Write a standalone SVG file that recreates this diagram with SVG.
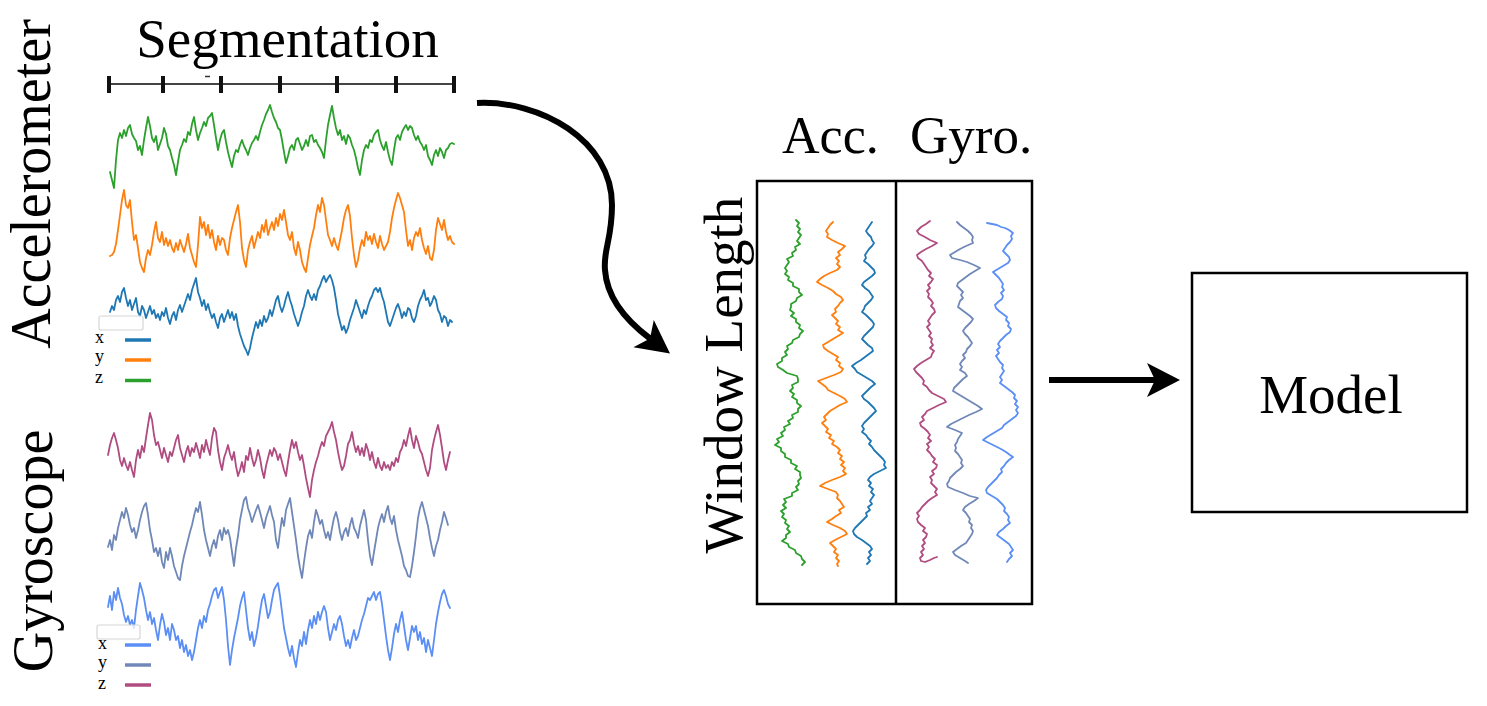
<svg xmlns="http://www.w3.org/2000/svg" width="1487" height="706" viewBox="0 0 1487 706">
<defs>
<style>
text{font-family:"Liberation Serif","Times New Roman",serif;fill:#000}
.sig{fill:none;stroke-width:1.8;stroke-linejoin:round;stroke-linecap:round}
.ax{stroke:#1f77b4}.ay{stroke:#ff7f0e}.az{stroke:#2ca02c}
.gx{stroke:#5b8ff5}.gy{stroke:#7088b8}.gz{stroke:#b04c80}
.leg{stroke-width:3.5;fill:none}
.tick{stroke:#111;stroke-width:4}
.box{fill:#fff;stroke:#000;stroke-width:2.5}
.conn{fill:none;stroke:#000;stroke-width:6}
.lgf{fill:#fff;fill-opacity:.75;stroke:#d6d6d6;stroke-width:1.2}
.lt{font-size:18px}
</style>
<marker id="ah" markerUnits="userSpaceOnUse" viewBox="0 0 40 40" markerWidth="40" markerHeight="40" refX="10" refY="20" orient="auto" overflow="visible">
<path d="M35,20 L2,3 L10,20 L2,37 Z" fill="#000"/>
</marker>
</defs>
<rect width="1487" height="706" fill="#fff"/>

<g id="segmentation">
<text x="287.5" y="57" font-size="55" text-anchor="middle">Segmentation</text>
<line x1="108" y1="84" x2="456" y2="84" stroke="#444" stroke-width="2"/>
<g class="tick">
<line x1="109" y1="76" x2="109" y2="93"/><line x1="163" y1="76" x2="163" y2="93"/><line x1="221" y1="76" x2="221" y2="93"/><line x1="280" y1="76" x2="280" y2="93"/><line x1="337" y1="76" x2="337" y2="93"/><line x1="396" y1="76" x2="396" y2="93"/><line x1="454" y1="76" x2="454" y2="93"/>
</g>
<line x1="205" y1="76.5" x2="210" y2="76.5" stroke="#333" stroke-width="1.5"/>
</g>

<g id="accelerometer">
<text transform="translate(50,184) rotate(-90)" font-size="56" text-anchor="middle">Accelerometer</text>
<polyline class="sig az" points="110,172 112,180 114,188 116,160 118,140 120,133 122,138 124,130 126,136 128,128 130,125 132,134 134,138 136,141 138,150 140,146 142,155 144,140 146,128 148,117 150,126 152,138 154,142 156,136 158,150 160,144 162,138 164,128 166,134 168,146 170,150 172,158 174,165 176,175 178,162 180,150 182,145 184,139 186,142 188,132 190,135 192,124 194,117 196,130 198,140 200,133 202,128 204,122 206,126 208,118 210,116 212,113 214,125 216,138 218,150 220,140 222,133 224,130 226,142 228,152 230,160 232,167 234,156 236,150 238,152 240,145 242,140 244,146 246,150 248,155 250,148 252,143 254,140 256,136 258,140 260,132 262,125 264,120 266,114 268,110 270,105 272,112 274,118 276,122 278,128 280,130 282,140 284,152 286,163 288,156 290,148 292,145 294,150 296,140 298,138 300,144 302,150 304,146 306,140 308,146 310,136 312,135 314,142 316,140 318,145 320,148 322,152 324,158 326,140 328,125 330,115 332,106 334,118 336,128 338,135 340,130 342,140 344,136 346,144 348,135 350,138 352,145 354,150 356,158 358,168 360,175 362,160 364,150 366,145 368,148 370,140 372,142 374,135 376,132 378,130 380,140 382,146 384,150 386,142 388,152 390,160 392,165 394,150 396,138 398,135 400,140 402,132 404,128 406,125 408,130 410,126 412,128 414,135 416,140 418,136 420,142 422,145 424,150 426,145 428,156 430,160 432,165 434,155 436,150 438,156 440,148 442,152 444,158 446,150 448,148 450,144 452,143 454,144"/>
<polyline class="sig ay" points="110,256 112,255 114,252 116,244 118,230 120,215 122,200 124,190 126,205 128,208 130,200 132,222 134,240 136,235 138,248 140,262 142,268 144,272 146,258 148,250 150,255 152,245 154,232 156,222 158,238 160,242 162,232 164,245 166,238 168,246 170,240 172,248 174,252 176,243 178,250 180,240 182,246 184,252 186,244 188,234 190,248 192,255 194,262 196,267 198,245 200,217 202,228 204,222 206,235 208,225 210,238 212,230 214,242 216,250 218,236 220,245 222,238 224,240 226,250 228,255 230,238 232,228 234,220 236,212 238,205 240,222 242,248 244,260 246,267 248,250 250,242 252,236 254,248 256,240 258,232 260,238 262,225 264,232 266,220 268,235 270,228 272,222 274,230 276,218 278,226 280,214 282,220 284,210 286,222 288,235 290,240 292,232 294,248 296,255 298,242 300,250 302,262 304,268 306,272 308,258 310,245 312,236 314,228 316,215 318,205 320,212 322,198 324,205 326,220 328,235 330,240 332,246 334,238 336,245 338,250 340,240 342,230 344,218 346,210 348,205 350,216 352,238 354,255 356,267 358,260 360,248 362,240 364,246 366,232 368,240 370,236 372,244 374,234 376,242 378,248 380,236 382,244 384,250 386,246 388,242 390,232 392,218 394,208 396,200 398,193 400,198 402,205 404,212 406,230 408,246 410,240 412,250 414,238 416,232 418,236 420,228 422,240 424,248 426,254 428,246 430,258 432,260 434,250 436,230 438,218 440,224 442,230 444,220 446,232 448,240 450,236 452,242 454,244"/>
<polyline class="sig ax" points="110,312 112,306 114,310 116,300 118,296 120,302 122,292 124,288 126,298 128,306 130,300 132,310 134,304 136,298 138,312 140,316 142,306 144,310 146,318 148,312 150,306 152,314 154,310 156,318 158,314 160,320 162,312 164,316 166,308 168,318 170,324 172,316 174,312 176,320 178,310 180,305 182,312 184,306 186,300 188,294 190,300 192,290 194,284 196,278 198,292 200,298 202,306 204,300 206,310 208,304 210,312 212,318 214,314 216,322 218,328 220,318 222,314 224,322 226,316 228,310 230,318 232,312 234,320 236,314 238,326 240,334 242,340 244,346 246,350 248,355 250,348 252,338 254,330 256,322 258,328 260,320 262,326 264,316 266,322 268,318 270,310 272,316 274,308 276,300 278,296 280,306 282,312 284,306 286,298 288,292 290,300 292,306 294,314 296,320 298,326 300,320 302,312 304,306 306,296 308,290 310,296 312,300 314,294 316,300 318,290 320,286 322,280 324,276 326,282 328,278 330,275 332,280 334,288 336,300 338,314 340,322 342,330 344,326 346,333 348,328 350,320 352,314 354,308 356,300 358,306 360,312 362,318 364,310 366,314 368,306 370,300 372,296 374,290 376,288 378,292 380,288 382,296 384,302 386,312 388,322 390,326 392,320 394,314 396,308 398,304 400,310 402,318 404,312 406,316 408,308 410,310 412,318 414,322 416,316 418,306 420,300 422,296 424,290 426,300 428,298 430,306 432,302 434,296 436,300 438,310 440,314 442,322 444,316 446,318 448,326 450,320 452,322"/>
<rect class="lgf" x="99" y="316" width="44" height="14" rx="2"/>
<text class="lt" x="95" y="343">x</text>
<text class="lt" x="95" y="362">y</text>
<text class="lt" x="95" y="383">z</text>
<line class="leg ax" x1="125" y1="340" x2="151" y2="340"/>
<line class="leg ay" x1="125" y1="360" x2="151" y2="360"/>
<line class="leg az" x1="125" y1="380.5" x2="151" y2="380.5"/>
</g>

<g id="gyroscope">
<text transform="translate(52,551) rotate(-90)" font-size="56" text-anchor="middle">Gyroscope</text>
<polyline class="sig gz" points="108,455 110,445 112,438 114,433 116,440 118,448 120,460 122,466 124,458 126,465 128,470 130,462 132,470 134,477 136,460 138,450 140,458 142,446 144,452 146,438 148,425 150,413 152,420 154,435 156,445 158,442 160,450 162,458 164,448 166,455 168,462 170,452 172,456 174,448 176,440 178,435 180,448 182,455 184,462 186,452 188,446 190,456 192,448 194,452 196,443 198,450 200,458 202,445 204,452 206,440 208,448 210,455 212,438 214,428 216,432 218,450 220,462 222,470 224,458 226,452 228,445 230,454 232,460 234,452 236,466 238,476 240,470 242,462 244,472 246,456 248,460 250,448 252,458 254,466 256,460 258,450 260,458 262,470 264,478 266,466 268,458 270,450 272,456 274,448 276,452 278,460 280,454 282,462 284,470 286,476 288,462 290,450 292,440 294,448 296,442 298,452 300,460 302,455 304,466 306,478 308,488 310,497 312,480 314,470 316,462 318,456 320,448 322,442 324,446 326,436 328,432 330,428 332,422 334,432 336,440 338,452 340,462 342,470 344,466 346,456 348,444 350,440 352,432 354,444 356,452 358,446 360,455 362,448 364,456 366,444 368,450 370,460 372,452 374,462 376,468 378,458 380,466 382,470 384,462 386,468 388,465 390,470 392,462 394,466 396,458 398,462 400,452 402,448 404,440 406,446 408,436 410,428 412,440 414,448 416,436 418,442 420,450 422,454 424,462 426,470 428,476 430,468 432,450 434,440 436,432 438,425 440,435 442,448 444,462 446,470 448,460 450,452"/>
<polyline class="sig gy" points="108,547 110,540 112,550 114,535 116,540 118,528 120,520 122,512 124,518 126,508 128,515 130,525 132,532 134,528 136,538 138,530 140,520 142,512 144,506 146,503 148,515 150,530 152,540 154,552 156,548 158,556 160,548 162,562 164,568 166,552 168,560 170,548 172,556 174,566 176,572 178,578 180,580 182,566 184,556 186,548 188,540 190,532 192,525 194,516 196,508 198,512 200,502 202,515 204,530 206,540 208,548 210,556 212,546 214,540 216,548 218,536 220,530 222,540 224,528 226,534 228,530 230,538 232,552 234,566 236,548 238,536 240,520 242,510 244,500 246,497 248,508 250,514 252,522 254,516 256,510 258,505 260,512 262,520 264,528 266,518 268,512 270,506 272,515 274,522 276,540 278,548 280,532 282,518 284,526 286,510 288,504 290,498 292,512 294,526 296,540 298,556 300,568 302,578 304,562 306,548 308,536 310,530 312,538 314,522 316,510 318,516 320,524 322,520 324,530 326,538 328,532 330,540 332,528 334,518 336,512 338,520 340,532 342,540 344,532 346,528 348,536 350,525 352,518 354,528 356,532 358,538 360,526 362,518 364,510 366,520 368,540 370,556 372,565 374,552 376,540 378,528 380,520 382,514 384,522 386,512 388,506 390,518 392,524 394,516 396,530 398,540 400,548 402,556 404,566 406,570 408,576 410,577 412,566 414,552 416,536 418,518 420,508 422,502 424,510 426,518 428,526 430,538 432,548 434,556 436,546 438,540 440,530 442,522 444,512 446,518 448,525"/>
<polyline class="sig gx" points="108,607 110,596 112,610 114,592 116,600 118,588 120,598 122,604 124,615 126,622 128,616 130,625 132,620 134,628 136,610 138,596 140,583 142,590 144,598 146,610 148,620 150,612 152,624 154,618 156,630 158,640 160,625 162,614 164,622 166,635 168,628 170,640 172,624 174,630 176,640 178,636 180,648 182,640 184,652 186,645 188,656 190,650 192,660 194,652 196,640 198,628 200,620 202,628 204,616 206,622 208,610 210,604 212,596 214,590 216,588 218,598 220,592 222,587 224,600 226,620 228,646 230,665 232,650 234,638 236,628 238,618 240,606 242,598 244,592 246,610 248,628 250,640 252,632 254,646 256,638 258,626 260,612 262,600 264,594 266,606 268,618 270,612 272,600 274,590 276,586 278,583 280,596 282,612 284,628 286,638 288,648 290,656 292,646 294,658 296,667 298,652 300,640 302,646 304,632 306,644 308,630 310,620 312,628 314,616 316,624 318,612 320,620 322,612 324,606 326,612 328,628 330,640 332,632 334,624 336,630 338,620 340,616 342,624 344,636 346,646 348,640 350,648 352,638 354,630 356,640 358,636 360,628 362,620 364,614 366,606 368,598 370,600 372,596 374,592 376,600 378,594 380,592 382,604 384,620 386,636 388,650 390,660 392,648 394,634 396,624 398,632 400,620 402,612 404,626 406,640 408,650 410,638 412,626 414,632 416,626 418,640 420,632 422,644 424,638 426,652 428,640 430,648 432,656 434,640 436,624 438,612 440,602 442,594 444,590 446,596 448,604 450,608"/>
<rect class="lgf" x="97" y="625" width="43" height="14" rx="2"/>
<text class="lt" x="98" y="649">x</text>
<text class="lt" x="98" y="668">y</text>
<text class="lt" x="98" y="689">z</text>
<line class="leg gx" x1="125" y1="645" x2="151" y2="645"/>
<line class="leg gy" x1="125" y1="665" x2="151" y2="665"/>
<line class="leg gz" x1="125" y1="685" x2="151" y2="685"/>
</g>

<g id="window">
<text x="782" y="153" font-size="52">Acc.</text>
<text x="910" y="153" font-size="53">Gyro.</text>
<text transform="translate(742,375) rotate(-90)" font-size="55" text-anchor="middle">Window Length</text>
<rect class="box" x="757" y="181" width="275" height="423"/>
<line x1="896" y1="181" x2="896" y2="604" stroke="#000" stroke-width="2.5"/>
<polyline class="sig az" points="796,220 799,223 797,226 800,229 798,232 801,235 799,238 797,241 800,244 795,247 796,250 792,253 793,256 787,259 789,262 787,265 785,268 787,271 785,274 789,277 788,280 793,283 793,286 799,289 799,292 802,295 797,298 796,301 791,304 791,307 790,310 794,313 791,316 796,319 796,322 800,325 799,328 803,331 800,334 799,337 793,340 792,343 787,346 788,349 785,352 787,355 782,358 782,361 777,364 778,367 783,370 787,373 797,376 798,379 798,382 792,385 793,388 790,391 794,394 792,397 797,400 797,403 801,406 798,409 798,412 792,415 793,418 788,421 790,424 784,427 785,430 781,433 783,436 777,439 779,442 775,445 781,448 781,451 785,454 785,457 791,460 791,463 797,466 795,469 800,472 800,475 801,478 798,481 799,484 796,487 798,490 792,493 792,496 784,499 786,502 783,505 786,508 781,511 784,514 782,517 786,520 785,523 789,526 787,529 790,532 786,535 786,538 782,541 788,544 789,547 795,550 796,553 801,556 802,559 805,562 802,565"/>
<polyline class="sig ay" points="833,222 830,225 828,228 826,231 828,234 827,237 832,240 838,243 845,246 842,249 838,252 840,255 836,258 839,261 837,264 840,267 837,270 830,273 824,276 820,279 817,282 822,285 828,288 833,291 836,294 841,297 843,300 840,303 838,306 835,309 836,312 832,315 835,318 838,321 836,324 840,327 838,330 843,333 838,336 833,339 828,342 823,345 824,348 828,351 833,354 838,357 836,360 840,363 839,366 843,369 841,372 834,375 826,378 818,381 822,384 826,387 828,390 834,393 840,396 845,399 847,402 840,405 835,408 830,411 827,414 824,417 826,420 822,423 825,426 828,429 826,432 831,435 829,438 834,441 832,444 837,447 840,450 838,453 842,456 840,459 844,462 841,465 845,468 843,471 846,474 840,477 832,480 825,483 820,486 828,489 836,492 838,495 837,498 840,501 842,504 844,507 839,510 841,513 836,516 832,519 827,522 833,525 840,528 845,531 847,534 841,537 835,540 830,543 833,546 836,549 834,552 838,555 836,558 839,561 837,564 838,566"/>
<polyline class="sig ax" points="872,222 870,225 868,228 866,231 868,234 871,237 872,240 874,243 872,246 869,249 867,252 865,255 866,258 864,261 868,264 871,267 874,270 875,273 872,276 868,279 864,282 862,285 865,288 869,291 871,294 873,297 871,300 868,303 865,306 864,309 862,312 866,315 869,318 872,321 874,324 873,327 870,330 867,333 864,336 862,339 865,342 868,345 872,348 873,351 869,354 865,357 861,360 856,363 852,366 855,369 857,372 862,375 867,378 872,381 875,384 871,387 868,390 865,393 862,396 864,399 868,402 871,405 874,408 876,411 873,414 870,417 867,420 864,423 862,426 864,429 862,432 866,435 868,438 871,441 869,444 872,447 874,450 877,453 880,456 883,459 885,462 884,465 886,468 880,471 874,474 870,477 868,480 871,483 869,486 873,489 871,492 874,495 872,498 870,501 872,504 868,507 870,510 866,513 867,516 864,519 861,522 858,525 855,528 853,531 854,534 857,537 862,540 866,543 870,546 872,549 869,552 871,555 868,558 870,561 867,564"/>
<polyline class="sig gz" points="930,221 926,224 921,227 917,231 919,234 925,237 930,240 937,243 932,246 926,249 921,252 917,255 918,258 922,261 924,264 926,267 928,270 931,273 929,276 933,279 931,282 928,285 930,288 927,291 929,294 928,297 931,300 933,303 931,306 934,309 935,312 932,315 930,318 928,321 930,324 927,327 929,330 931,333 929,336 932,339 931,342 933,345 930,348 934,351 932,354 931,357 926,360 921,363 917,366 914,369 916,372 919,375 922,378 924,381 923,384 927,387 929,390 932,393 938,396 944,399 946,402 939,405 933,408 927,411 925,414 922,417 924,420 920,423 921,426 925,429 928,432 930,435 928,438 931,441 927,444 929,447 927,450 930,453 932,456 935,459 933,462 937,465 936,468 932,471 934,474 930,477 932,480 931,483 934,486 937,489 935,492 937,495 932,498 928,501 925,504 922,507 920,510 917,513 919,516 917,519 918,522 921,525 925,528 923,531 927,534 926,537 923,540 925,543 922,546 924,549 921,552 923,555 920,558 921,561 925,562 930,560 934,558 937,557"/>
<polyline class="sig gy" points="957,222 960,225 964,228 968,231 971,234 973,237 972,240 973,243 966,246 960,249 955,252 950,255 952,258 960,260 967,262 974,265 980,268 975,271 970,274 966,277 962,280 958,283 957,286 960,289 963,292 961,295 963,298 960,301 959,304 958,307 962,310 966,313 970,316 973,319 971,322 968,325 965,328 963,331 965,334 968,337 970,340 972,343 970,346 967,349 966,352 963,355 965,358 962,361 960,364 962,367 960,370 965,373 967,376 963,379 960,382 957,385 954,388 953,391 958,394 963,397 968,400 973,403 978,406 982,409 976,412 969,415 963,418 957,421 951,424 947,427 955,430 962,433 960,436 958,439 957,442 955,445 956,448 955,451 958,454 960,457 962,460 961,463 963,466 960,469 956,472 953,475 950,478 949,481 947,484 948,487 955,490 963,493 970,496 978,498 974,501 969,504 965,507 963,510 966,513 968,516 970,519 969,522 972,525 971,528 973,531 972,534 970,537 968,540 966,543 961,546 957,549 953,552 955,555 960,558 965,561 968,563"/>
<polyline class="sig gx" points="987,223 992,224 997,225 1001,227 1005,228 1009,230 1013,233 1011,236 1012,239 1010,242 1007,245 1005,248 1003,251 1006,254 1009,257 1010,260 1008,263 1003,266 998,269 993,272 996,275 999,278 1001,281 1003,284 1002,287 1004,290 1001,293 1003,296 1002,299 998,302 995,305 996,308 999,311 1003,314 1007,317 1006,320 1009,323 1008,326 1011,329 1010,332 1006,335 1003,338 1000,341 998,344 1000,347 997,350 999,353 996,356 998,359 1000,362 1003,365 1002,368 1004,371 1002,374 1000,377 1002,380 1000,383 1004,386 1008,389 1012,392 1015,395 1014,398 1017,401 1015,404 1018,407 1016,410 1018,413 1016,416 1012,419 1008,422 1004,425 1002,428 997,431 992,434 987,437 983,440 989,443 995,446 1001,449 1006,452 1010,455 1013,457 1009,460 1006,463 1004,466 1001,469 1002,472 999,475 997,478 994,481 991,484 988,487 986,490 987,493 992,496 997,499 1000,502 1003,505 1005,508 1004,511 1007,514 1009,517 1008,520 1010,523 1006,526 1003,529 999,532 997,535 1001,538 1005,541 1009,544 1011,547 1013,550 1010,553 1012,556 1009,559 1007,562"/>
</g>

<g id="model">
<rect class="box" x="1192" y="273" width="275" height="239"/>
<text x="1331" y="413" font-size="55" text-anchor="middle">Model</text>
</g>

<g id="connectors">
<path class="conn" d="M477,103 C540,100 612,140 612,205 C612,240 603,250 605,270 C607,300 628,322 650,338.5" marker-end="url(#ah)"/>
<line class="conn" x1="1049" y1="380" x2="1155" y2="380" marker-end="url(#ah)"/>
</g>
</svg>
